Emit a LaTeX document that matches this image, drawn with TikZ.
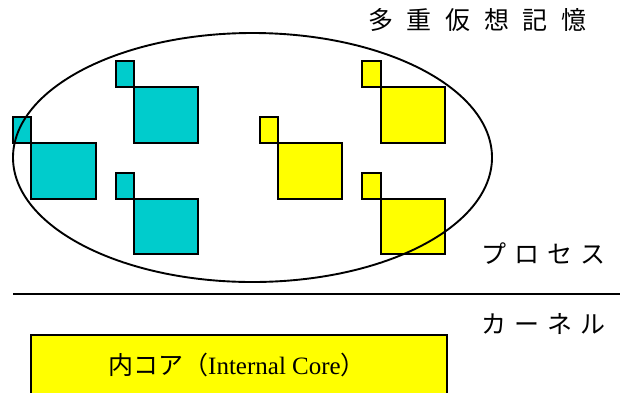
\documentclass[tikz,border=0pt]{standalone}
\usepackage{fontspec}
\setmainfont{Liberation Serif}
\newfontfamily\jp{Noto Sans CJK JP}
\definecolor{cyanbox}{HTML}{00CCCC}
\definecolor{yelbox}{HTML}{FFFF00}
\tikzset{
  cybox/.style={draw=black, line width=2pt, fill=cyanbox},
  ylbox/.style={draw=black, line width=2pt, fill=yelbox},
  jplabel/.style={font=\jp\fontsize{25pt}{27pt}\selectfont, inner sep=0pt, anchor=west}
}
\begin{document}
\begin{tikzpicture}[x=1pt,y=-1pt]
\clip (0,0) rectangle (620,392);
\fill[white] (0,0) rectangle (620,392);
% cyan groups
\draw[cybox] (13,117) rectangle (31,143);
\draw[cybox] (31,143) rectangle (96,199);
\draw[cybox] (116,61) rectangle (134,87);
\draw[cybox] (134,87) rectangle (198,143);
\draw[cybox] (116,173) rectangle (134,199);
\draw[cybox] (134,199) rectangle (198,254);
% yellow groups
\draw[ylbox] (260,117) rectangle (278,143);
\draw[ylbox] (278,143) rectangle (342,199);
\draw[ylbox] (362,61) rectangle (381,87);
\draw[ylbox] (381,87) rectangle (445,143);
\draw[ylbox] (362,173) rectangle (381,199);
\draw[ylbox] (381,199) rectangle (445,254);
% process ellipse
\draw[line width=1.9pt] (252.5,157.5) ellipse [x radius=239.5, y radius=124.5];
% separator
\draw[line width=2.4pt] (13,294) -- (620,294);
% labels
\node[jplabel] (vm) at (368,20) {多\hspace{13.6pt}重\hspace{13.6pt}仮\hspace{13.6pt}想\hspace{13.6pt}記\hspace{13.6pt}憶};
\node[jplabel] (proc) at (481,254) {プ\hspace{8pt}ロ\hspace{8pt}セ\hspace{8pt}ス};
\node[jplabel] (kern) at (481,324) {カ\hspace{8pt}ー\hspace{8pt}ネ\hspace{8pt}ル};
% internal core
\node[draw=black, line width=2pt, fill=yelbox, minimum width=416pt, minimum height=70pt, anchor=north west, inner sep=0pt] (core) at (30,334) {};
\node[font=\fontsize{25pt}{27pt}\selectfont, inner sep=0pt] (coretext) at (237,365) {{\jp 内コア（}Internal Core{\jp ）}};
\end{tikzpicture}
\end{document}
